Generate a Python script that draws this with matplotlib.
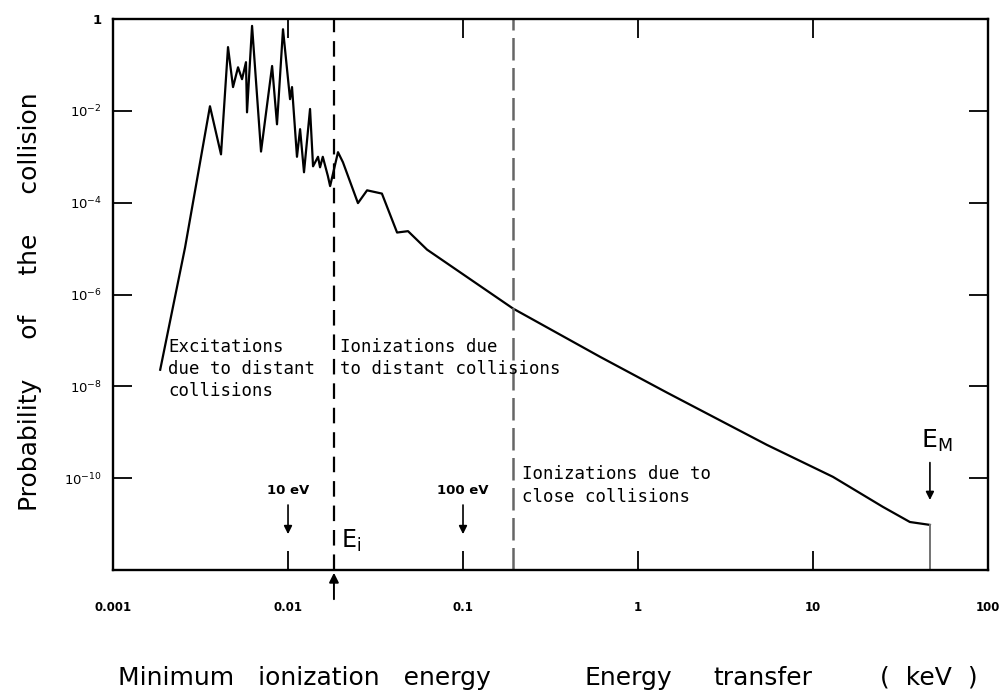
import matplotlib.pyplot as plt

# energy transfer (keV) and collision probability
energy = [0.00186, 0.00258, 0.00358, 0.00414, 0.00454, 0.00485, 0.00518, 0.00546,
          0.00575, 0.00583, 0.00623, 0.00701, 0.00811, 0.00865, 0.00936, 0.01027,
          0.01054, 0.01125, 0.01172, 0.01234, 0.01336, 0.0139, 0.01484, 0.01524,
          0.0158, 0.0169, 0.0174, 0.0193, 0.0206, 0.0251, 0.0283, 0.0344,
          0.042, 0.0485, 0.0623, 0.193, 0.607, 1.465, 5.46, 13.0,
          25.1, 35.8, 46.6]
prob = [2.3e-8, 1.06e-5, 1.26e-2, 1.13e-3, 0.245, 0.033, 0.089, 0.049,
        0.115, 0.0093, 0.71, 1.3e-3, 0.095, 5.1e-3, 0.60, 0.018,
        0.033, 1.0e-3, 4.0e-3, 4.6e-4, 0.011, 6.2e-4, 1.0e-3, 5.9e-4,
        1.0e-3, 3.8e-4, 2.3e-4, 1.26e-3, 7.6e-4, 9.8e-5, 1.86e-4, 1.58e-4,
        2.24e-5, 2.4e-5, 9.5e-6, 4.96e-7, 4.4e-8, 7.3e-9, 5.3e-10, 1.07e-10,
        2.37e-11, 1.11e-11, 9.6e-12]

e_ion = 0.0183      # minimum ionization energy
e_close = 0.193     # start of close collisions
e_max = 46.6        # E_M
marks = [0.01, 0.1]
mark_labels = ['10 eV', '100 eV']

x_ticks = [0.001, 0.01, 0.1, 1, 10, 100]
x_labels = ['0.001', '0.01', '0.1', '1', '10', '100']
y_ticks = [1, 1e-2, 1e-4, 1e-6, 1e-8, 1e-10]
y_labels = ['1', '$10^{-2}$', '$10^{-4}$', '$10^{-6}$', '$10^{-8}$', '$10^{-10}$']

fig = plt.figure(figsize=(10.03, 6.93), dpi=100)
ax = fig.add_axes([0.1127, 0.1775, 0.8723, 0.795])

ax.plot(energy, prob, color='black', lw=1.6)
ax.plot([e_max, e_max], [prob[-1], 1e-12], color='0.45', lw=1.4)

ax.axvline(e_ion, color='black', lw=1.6, dashes=(7, 4))
ax.axvline(e_close, color='0.4', lw=1.8, dashes=(9, 3))

ax.set_xscale('log')
ax.set_yscale('log')
ax.set_xlim(0.001, 100)
ax.set_ylim(1e-12, 1)
ax.set_xticks(x_ticks)
ax.set_xticklabels(x_labels, fontsize=8.5, fontweight='bold')
ax.set_yticks(y_ticks)
ax.set_yticklabels(y_labels, fontsize=9.5, fontweight='bold')
ax.minorticks_off()
ax.tick_params(direction='in', length=14, width=1.3, top=True, right=True)
ax.tick_params(axis='x', pad=22)
ax.tick_params(axis='y', pad=8)
for s in ax.spines.values():
    s.set_linewidth(1.7)

mono = 'DejaVu Sans Mono'
ax.text(0.063, 0.421, 'Excitations\ndue to distant\ncollisions', transform=ax.transAxes,
        family=mono, fontsize=12.5, va='top', ha='left', linespacing=1.3)
ax.text(0.259, 0.421, 'Ionizations due\nto distant collisions', transform=ax.transAxes,
        family=mono, fontsize=12.5, va='top', ha='left', linespacing=1.3)
ax.text(0.467, 0.19, 'Ionizations due to\nclose collisions', transform=ax.transAxes,
        family=mono, fontsize=12.5, va='top', ha='left', linespacing=1.3)

for m, lab in zip(marks, mark_labels):
    ax.annotate('', xy=(m, 0.060), xytext=(m, 0.123), xycoords=('data', 'axes fraction'),
                arrowprops=dict(arrowstyle='-|>', color='black', lw=1.2, mutation_scale=12))
    ax.text(m, 0.145, lab, transform=ax.get_xaxis_transform(), ha='center', va='center',
            fontsize=9.5, fontweight='bold')

ax.annotate('', xy=(e_max, 0.122), xytext=(e_max, 0.20), xycoords=('data', 'axes fraction'),
            arrowprops=dict(arrowstyle='-|>', color='black', lw=1.2, mutation_scale=12))
ax.text(e_max * 1.1, 0.235, r'$\mathregular{E_M}$', transform=ax.get_xaxis_transform(),
        ha='center', va='center', fontsize=18)

ax.annotate('', xy=(e_ion, 0.0), xytext=(e_ion, -0.058), xycoords=('data', 'axes fraction'),
            arrowprops=dict(arrowstyle='-|>', color='black', lw=1.4, mutation_scale=14),
            annotation_clip=False)
ax.text(e_ion * 1.1, 0.053, r'$\mathregular{E_i}$', transform=ax.get_xaxis_transform(),
        ha='left', va='center', fontsize=17)

fig.text(0.03, 0.564, 'Probability     of     the     collision', rotation=90,
         ha='center', va='center', fontsize=18)
fig.text(0.118, 0.022, 'Minimum   ionization   energy', ha='left', va='center', fontsize=18)
fig.text(0.583, 0.022, 'Energy', ha='left', va='center', fontsize=18)
fig.text(0.711, 0.022, 'transfer', ha='left', va='center', fontsize=18)
fig.text(0.877, 0.022, '(  keV  )', ha='left', va='center', fontsize=18)

fig.savefig('out.png', dpi=100)
